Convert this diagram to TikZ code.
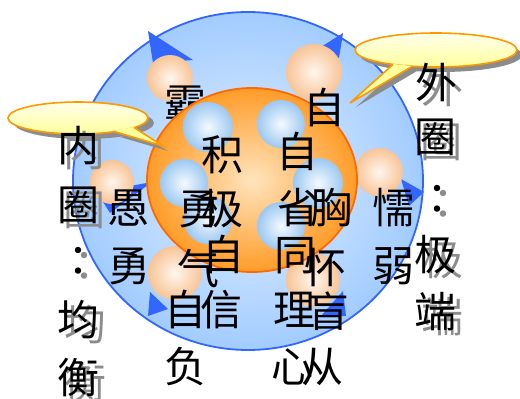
\documentclass[tikz,border=0pt]{standalone}
\usepackage{fontspec}
\newfontfamily\cjk{Noto Sans CJK SC}
\newfontfamily\cjktc{Noto Sans CJK TC}
\definecolor{ringin}{HTML}{E2F0FF}
\definecolor{ringout}{HTML}{A2CCFF}
\definecolor{ringline}{HTML}{3366FF}
\definecolor{arrowblue}{HTML}{3366FF}
\definecolor{orin}{HTML}{FFE4BE}
\definecolor{orout}{HTML}{FF9C28}
\definecolor{orline}{HTML}{FF6A00}
\definecolor{peach}{HTML}{F8C496}
\definecolor{peachin}{HTML}{FFF6EE}
\definecolor{bsph}{HTML}{9CC8F2}
\definecolor{bsphin}{HTML}{F4FAFF}
\definecolor{calltop}{HTML}{FFFFEA}
\definecolor{callbot}{HTML}{FFFF9E}
\definecolor{callline}{HTML}{FF9900}
\definecolor{shadowgray}{HTML}{8C8C8C}
\tikzset{
  ch/.style={font=\cjk\fontsize{42}{42}\selectfont, inner sep=0pt, text=black},
  chshadow/.style={ch, text=shadowgray},
  colonch/.style={font=\cjktc\fontsize{42}{42}\selectfont, inner sep=0pt, text=black},
  colonshadow/.style={colonch, text=shadowgray},
  peachball/.style={inner color=peachin, outer color=peach},
  blueball/.style={inner color=bsphin, outer color=bsph},
  calloutfill/.style={top color=calltop, bottom color=callbot},
  calloutline/.style={draw=callline, line width=1.6pt},
}
\begin{document}
\begin{tikzpicture}[x=1pt,y=-1pt]
\useasboundingbox (0,0) rectangle (520,399);

% outer blue ring
\shade[inner color=ringin, outer color=ringout] (248,181) ellipse [x radius=175pt, y radius=169pt];
\draw[ringline, line width=1.8pt] (248,181) ellipse [x radius=175pt, y radius=169pt];

% arrow heads on the ring
\fill[arrowblue] (148,31) -- (153,63) -- (193,60) -- cycle;
\fill[arrowblue] (343,33) -- (321,47) -- (339,58) -- cycle;
\fill[arrowblue] (424,192) -- (401,179) -- (409,206) -- cycle;
\fill[arrowblue] (97,192) -- (152,182) -- (110,213) -- cycle;
\fill[arrowblue] (150,292) -- (148,316) -- (168,309) -- cycle;
\fill[arrowblue] (343,291) -- (321,316) -- (346,316) -- cycle;

% peach spheres (outer ring)
\shade[peachball] (170,78) circle [radius=23pt];
\shade[peachball] (314,72) circle [radius=28pt];
\shade[peachball] (112,182) circle [radius=22pt];
\shade[peachball] (379,172) circle [radius=24pt];
\shade[peachball] (175,273) circle [radius=27pt];
\shade[peachball] (313,280) circle [radius=27pt];

% text partly hidden by the inner circle
\node[ch] (ba) at (185,104) {霸};

% inner orange circle
\shade[inner color=orin, outer color=orout] (252,180) ellipse [x radius=105pt, y radius=92pt];
\draw[orline, line width=1.8pt] (252,180) ellipse [x radius=105pt, y radius=92pt];

% blue spheres (inner circle)
\shade[blueball] (208,127) circle [radius=25pt];
\shade[blueball] (184,183) circle [radius=24pt];
\shade[blueball] (281,124) circle [radius=24pt];
\shade[blueball] (318,183) circle [radius=25pt];
\shade[blueball] (208,220) circle [radius=24pt];
\shade[blueball] (281,226) circle [radius=24pt];

% left callout
\fill[shadowgray] (84,123) ellipse [x radius=70pt, y radius=16pt];
\fill[shadowgray] (120,137) -- (168,151) -- (138,133) -- cycle;
\shade[calloutfill] (78,118) ellipse [x radius=70pt, y radius=16pt];
\draw[calloutline] (78,118) ellipse [x radius=70pt, y radius=16pt];
\fill[callbot] (114,131) -- (163,146) -- (134,127) -- cycle;
\draw[calloutline, line join=miter] (114,131.5) -- (163,146) -- (134,127.5);

% right callout
\fill[shadowgray] (441,55) ellipse [x radius=81pt, y radius=17pt];
\fill[shadowgray] (398,69) -- (356,107) -- (417,71) -- cycle;
\shade[calloutfill] (436,50) ellipse [x radius=81pt, y radius=17pt];
\draw[calloutline] (436,50) ellipse [x radius=81pt, y radius=17pt];
\fill[callbot] (393,64) -- (350,103) -- (412,66) -- cycle;
\draw[calloutline, line join=miter] (393,64.5) -- (350,103) -- (412,66.5);

% left column: 内圈：均衡
\node[chshadow] (nei-s) at (84,151) {内};
\node[chshadow] (quanl-s) at (84,210) {圈};
\node[colonshadow] (coll-s) at (84,267) {：};
\node[chshadow] (jun-s) at (85,325) {均};
\node[chshadow] (heng-s) at (85,383) {衡};
\node[ch] (nei) at (78,146) {内};
\node[ch] (quanl) at (78,205) {圈};
\node[colonch] (coll) at (78,262) {：};
\node[ch] (jun) at (78,320) {均};
\node[ch] (heng) at (78,378) {衡};

% right column: 外圈：极端
\node[chshadow] (wai-s) at (442,87) {外};
\node[chshadow] (quanr-s) at (441,142) {圈};
\node[colonshadow] (colr-s) at (443,205) {：};
\node[chshadow] (jir-s) at (442,260) {极};
\node[chshadow] (duan-s) at (442,317) {端};
\node[ch] (wai) at (436,82) {外};
\node[ch] (quanr) at (435,137) {圈};
\node[colonch] (colr) at (437,200) {：};
\node[ch] (jir) at (435,255) {极};
\node[ch] (duan) at (435,312) {端};

% outer ring words
\node[ch] (zi-top) at (324,108) {自};
\node[ch] (yu) at (128,208) {愚};
\node[ch] (yong1) at (129,266) {勇};
\node[ch] (nuo) at (393,208) {懦};
\node[ch] (ruo) at (393,266) {弱};
\node[ch] (zi-fu) at (185,310) {自};
\node[ch] (fu) at (185,367) {负};
\node[ch] (mang) at (328,311) {盲};
\node[ch] (cong) at (322,367) {从};

% inner circle words
\node[ch] (ji1) at (222,155) {积};
\node[ch] (yong2) at (199,209) {勇};
\node[ch] (ji2) at (222,209) {极};
\node[ch] (zi-xin) at (223,255) {自};
\node[ch] (qi) at (198,268) {气};
\node[ch] (xin) at (221,310) {信};
\node[ch] (zi-xing) at (297,152) {自};
\node[ch] (xing) at (298,208) {省};
\node[ch] (xiong) at (331,208) {胸};
\node[ch] (tong) at (295,256) {同};
\node[ch] (huai) at (325,268) {怀};
\node[ch] (li) at (294,310) {理};
\node[ch] (xinheart) at (292,367) {心};
\end{tikzpicture}
\end{document}
